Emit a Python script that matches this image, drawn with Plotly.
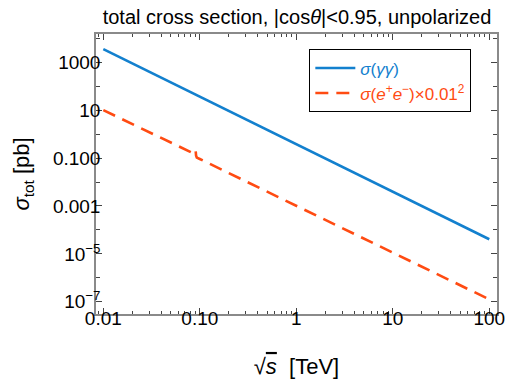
import plotly.graph_objects as go

# data
sqrt_s_gg = [0.01, 0.1, 1, 10, 100]
sigma_gg = [3550, 36.7, 0.38, 0.0039, 4.07e-5]

sqrt_s_ee = [0.01, 0.02, 0.05, 0.08, 0.087, 0.0895, 0.0905, 0.0915, 0.093, 0.1, 0.2, 0.5, 1, 2, 5, 10, 20, 50, 100]
sigma_ee = [10, 2.62, 0.448, 0.181, 0.153, 0.165, 0.205, 0.125, 0.105, 0.0914, 0.0237, 0.00396,
            0.00103, 2.65e-4, 4.45e-5, 1.15e-5, 3.0e-6, 4.9e-7, 1.26e-7]

x_tickvals = [0.01, 0.1, 1, 10, 100]
x_ticktext = ["0.01", "0.10", "1", "10", "100"]
y_tickvals = [1000, 10, 0.1, 0.001, 1e-5, 1e-7]
y_ticktext = ["1000", "10", "0.100", "0.001", "10<sup>−5</sup>", "10<sup>−7</sup>"]
y_minor = [1e-7 * 10 ** k for k in range(12)]
x_minor = [m * 10 ** e for e in range(-3, 3) for m in range(2, 10)]

blue = "#1380CE"
orange = "#FF4B12"
frame = "#8a8a8a"

fig = go.Figure()
fig.add_trace(go.Scatter(x=sqrt_s_gg, y=sigma_gg, mode="lines",
                         line=dict(color=blue, width=2.6),
                         name=f"<span style='color:{blue}'><i>σ</i>(<i>γγ</i>)</span>"))
fig.add_trace(go.Scatter(x=sqrt_s_ee, y=sigma_ee, mode="lines",
                         line=dict(color=orange, width=2.6, dash="13px,8px"),
                         name=f"<span style='color:{orange}'><i>σ</i>(<i>e</i><sup>+</sup><i>e</i><sup>−</sup>)×0.01<sup>2</sup></span>"))

fig.update_layout(
    template="none",
    width=506, height=383,
    margin=dict(l=96, r=9, t=34, b=69),
    paper_bgcolor="white", plot_bgcolor="white",
    font=dict(family="Liberation Sans, Arial, sans-serif", size=19, color="black"),
    title=dict(text="total cross section, |cos<i>θ</i>|<0.95, unpolarized",
               x=0.587, xanchor="center", y=0.956, yanchor="middle",
               font=dict(size=20)),
    showlegend=True,
    legend=dict(x=0.532, xanchor="left", y=0.945, yanchor="top",
                bordercolor="black", borderwidth=1, bgcolor="white",
                font=dict(size=17), tracegroupgap=0, itemwidth=40),
    xaxis=dict(type="log", range=[-2.076, 2.08], automargin=False,
               tickvals=x_tickvals, ticktext=x_ticktext, ticklabeloverflow="allow",
               ticklabelstandoff=-14,
               ticks="inside", ticklen=6, tickcolor="#444", tickwidth=1,
               minor=dict(tickvals=x_minor, ticks="inside", ticklen=3, tickcolor="#444"),
               showline=True, linecolor=frame, linewidth=1.5, mirror="ticks",
               showgrid=False, zeroline=False,
               title=dict(text="√<span style='text-decoration:overline'><i>s</i></span>  [TeV]",
                          font=dict(size=22), standoff=31)),
    yaxis=dict(type="log", range=[-7.51, 4.18], automargin=False,
               tickvals=y_tickvals, ticktext=y_ticktext, ticklabeloverflow="allow",
               ticklabelstandoff=-10,
               ticks="inside", ticklen=6, tickcolor="#444", tickwidth=1,
               minor=dict(tickvals=y_minor, ticks="inside", ticklen=4, tickcolor="#444"),
               showline=True, linecolor=frame, linewidth=1.5, mirror="ticks",
               showgrid=False, zeroline=False,
               title=dict(text="<i>σ</i><sub>tot</sub> [pb]", font=dict(size=22), standoff=17)),
)

fig.write_html("out.html", config={"displayModeBar": False},
               post_script="document.body.style.margin='0';document.body.style.overflow='hidden';")
